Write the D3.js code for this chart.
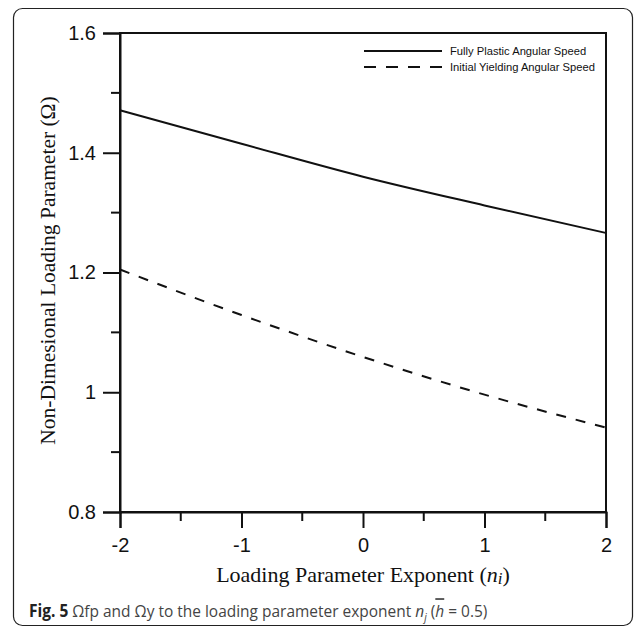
<!DOCTYPE html>
<html>
<head>
<meta charset="utf-8">
<script src="https://cdn.jsdelivr.net/npm/d3@7"></script>
<style>
  body { margin: 0; background: #fff; }
</style>
</head>
<body>
<div id="chart"></div>
<script>
// data
var exponents = [-2, -1, 0, 1, 2];
var fullyPlastic = [1.471, 1.415, 1.360, 1.312, 1.266];
var initialYield = [1.205, 1.129, 1.059, 0.996, 0.941];
var xTicks = [-2, -1, 0, 1, 2];
var yTicks = [0.8, 1, 1.2, 1.4, 1.6];
var seriesNames = ["Fully Plastic Angular Speed", "Initial Yielding Angular Speed"];

var svgWidth = 637;
var svgHeight = 628;

var margin = { top: 33, right: 31, bottom: 116, left: 120 };
var width = svgWidth - margin.left - margin.right;
var height = svgHeight - margin.top - margin.bottom;

var svg = d3.select("#chart")
  .append("svg")
  .attr("width", svgWidth)
  .attr("height", svgHeight);

// outer rounded frame
svg.append("rect")
  .attr("x", 13.5)
  .attr("y", 8.5)
  .attr("width", 619)
  .attr("height", 617)
  .attr("rx", 9)
  .attr("fill", "none")
  .attr("stroke", "#222")
  .attr("stroke-width", 1.2);

var chartGroup = svg.append("g")
  .attr("transform", `translate(${margin.left}, ${margin.top})`);

var x = d3.scaleLinear().domain([-2, 2]).range([0, width]);
var y = d3.scaleLinear().domain([0.8, 1.6]).range([height, 0]);

// plot box (top and right edges)
chartGroup.append("rect")
  .attr("width", width)
  .attr("height", height)
  .attr("fill", "none")
  .attr("stroke", "#111")
  .attr("stroke-width", 2);

// minor ticks
var xMinor = d3.range(-1.5, 2, 1);
var yMinor = d3.range(0.9, 1.6, 0.2);

chartGroup.selectAll(".xminor")
  .data(xMinor)
  .enter()
  .append("line")
  .attr("x1", d => x(d)).attr("x2", d => x(d))
  .attr("y1", height).attr("y2", height + 9)
  .attr("stroke", "#111").attr("stroke-width", 2);

chartGroup.selectAll(".yminor")
  .data(yMinor)
  .enter()
  .append("line")
  .attr("x1", -9).attr("x2", 0)
  .attr("y1", d => y(d)).attr("y2", d => y(d))
  .attr("stroke", "#111").attr("stroke-width", 2);

// axes
var bottomAxis = d3.axisBottom(x).tickValues(xTicks).tickSize(16).tickPadding(10).tickFormat(d => String(d));
var leftAxis = d3.axisLeft(y).tickValues(yTicks).tickSize(17).tickPadding(7).tickFormat(d => d === 1 ? "1" : d.toFixed(1));

var xAxis = chartGroup.append("g")
  .attr("transform", `translate(0, ${height})`)
  .call(bottomAxis);

var yAxis = chartGroup.append("g")
  .call(leftAxis);

[xAxis, yAxis].forEach(function (ax) {
  ax.select(".domain").attr("stroke", "#111").attr("stroke-width", 2);
  ax.selectAll(".tick line").attr("stroke", "#111").attr("stroke-width", 2);
  ax.selectAll(".tick text")
    .attr("fill", "#111")
    .attr("font-family", "Liberation Sans, Arial, sans-serif")
    .style("font-size", "20px");
});

// lines
var line = d3.line()
  .x((d, i) => x(exponents[i]))
  .y(d => y(d))
  .curve(d3.curveMonotoneX);

chartGroup.append("path")
  .datum(fullyPlastic)
  .attr("d", line)
  .attr("fill", "none")
  .attr("stroke", "#111")
  .attr("stroke-width", 2);

chartGroup.append("path")
  .datum(initialYield)
  .attr("d", line)
  .attr("fill", "none")
  .attr("stroke", "#111")
  .attr("stroke-width", 2)
  .attr("stroke-dasharray", "10,10");

// legend
var legend = chartGroup.append("g")
  .attr("transform", `translate(${width - 242}, 18)`);

seriesNames.forEach(function (name, i) {
  legend.append("line")
    .attr("x1", 0).attr("x2", 78)
    .attr("y1", i * 16).attr("y2", i * 16)
    .attr("stroke", "#111")
    .attr("stroke-width", 2)
    .attr("stroke-dasharray", i === 1 ? "12,10" : null);
  legend.append("text")
    .attr("x", 86)
    .attr("y", i * 16 + 4)
    .attr("font-family", "Liberation Sans, Arial, sans-serif")
    .attr("font-size", "11.2px")
    .attr("fill", "#111")
    .text(name);
});

// axis titles
var xTitle = chartGroup.append("text")
  .attr("x", width / 2)
  .attr("y", height + 70)
  .attr("text-anchor", "middle")
  .attr("font-family", "Liberation Serif, Times New Roman, serif")
  .attr("font-size", "22px")
  .attr("fill", "#111");
xTitle.append("tspan").text("Loading Parameter Exponent (");
xTitle.append("tspan").attr("font-style", "italic").text("n");
xTitle.append("tspan").attr("font-style", "italic").attr("font-size", "17px").attr("dy", 2).text("i");
xTitle.append("tspan").attr("dy", -2).text(")");

chartGroup.append("text")
  .attr("transform", "rotate(-90)")
  .attr("x", -height / 2 + 2)
  .attr("y", -65)
  .attr("text-anchor", "middle")
  .attr("font-family", "Liberation Serif, Times New Roman, serif")
  .attr("font-size", "21.5px")
  .attr("fill", "#111")
  .text("Non-Dimesional Loading Parameter (\u03A9)");

// caption (source font is narrower, so squeeze horizontally)
var caption = svg.append("g")
  .attr("transform", "translate(29, 617) scale(0.91, 1)")
  .append("text")
  .attr("font-family", "Open Sans, Noto Sans, sans-serif")
  .attr("font-size", "17px")
  .attr("fill", "#444");
caption.append("tspan").attr("font-weight", "bold").attr("fill", "#222").text("Fig. 5");
caption.append("tspan").text(" \u03A9fp and \u03A9y to the loading parameter exponent ");
caption.append("tspan").attr("font-style", "italic").text("n");
caption.append("tspan").attr("font-style", "italic").attr("font-size", "11px").attr("dy", 4).text("j");
caption.append("tspan").attr("dy", -4).text(" (");
caption.append("tspan").attr("font-style", "italic").attr("text-decoration", "overline").text("h");
caption.append("tspan").text(" = 0.5)");
</script>
</body>
</html>
